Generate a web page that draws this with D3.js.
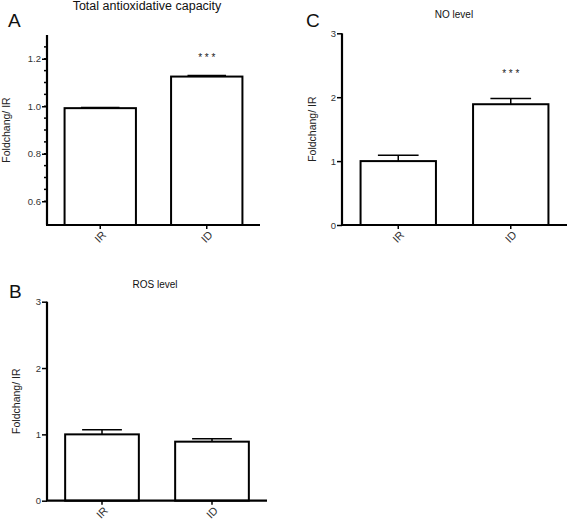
<!DOCTYPE html>
<html>
<head>
<meta charset="utf-8">
<script src="https://cdn.jsdelivr.net/npm/d3@7/dist/d3.min.js"></script>
<style>
  body { margin: 0; background: #fff; }
  svg { display: block; font-family: "Liberation Sans", Arial, sans-serif; }
</style>
</head>
<body>
<svg id="chart" width="567" height="522"></svg>
<script>
// ---- data ----
const categories = ["IR", "ID"];
const tacMeans = [0.992, 1.125];
const tacErr = [0.003, 0.005];
const noMeans = [1.0, 1.89];
const noErr = [0.09, 0.09];
const rosMeans = [1.0, 0.89];
const rosErr = [0.07, 0.045];
const tacMajorTicks = [0.6, 0.8, 1.0, 1.2];
const tacMinorTicks = [0.6, 0.65, 0.7, 0.75, 0.8, 0.85, 0.9, 0.95, 1.0, 1.05, 1.1, 1.15, 1.2, 1.25];
const levelTicks = [0, 1, 2, 3];

const svg = d3.select("#chart");

function panel(opts) {
  const g = svg.append("g");
  const y = d3.scaleLinear().domain(opts.domain).range([opts.bottom, opts.top]);
  const x = d3.scaleBand().domain(categories).range([opts.left, opts.right])
    .paddingInner(0.33).paddingOuter(0.165);

  // bars
  g.selectAll("rect.bar").data(opts.means).enter().append("rect")
    .attr("x", (d, i) => x(categories[i]))
    .attr("width", x.bandwidth())
    .attr("y", d => y(d))
    .attr("height", d => y(opts.domain[0]) - y(d))
    .attr("fill", "#fff").attr("stroke", "#000").attr("stroke-width", 2);

  // error bars
  const capW = x.bandwidth() * 0.27;
  opts.means.forEach((m, i) => {
    const cx = x(categories[i]) + x.bandwidth() / 2;
    g.append("line").attr("x1", cx).attr("x2", cx)
      .attr("y1", y(m)).attr("y2", y(m + opts.err[i]))
      .attr("stroke", "#000").attr("stroke-width", 1.5);
    g.append("line").attr("x1", cx - capW).attr("x2", cx + capW)
      .attr("y1", y(m + opts.err[i])).attr("y2", y(m + opts.err[i]))
      .attr("stroke", "#000").attr("stroke-width", 1.5);
  });

  // y axis
  const yAxis = d3.axisLeft(y).tickValues(opts.majorTicks).tickSize(5).tickSizeOuter(0)
    .tickFormat(opts.fmt);
  const ya = g.append("g").attr("transform", `translate(${opts.left},0)`).call(yAxis);
  ya.select(".domain").attr("stroke-width", 2.2).attr("d", `M0,${opts.top}V${opts.bottom}`);
  ya.selectAll(".tick line").attr("stroke-width", 1.5);
  ya.selectAll(".tick text").attr("font-size", 9.5).attr("fill", "#333")
    .attr("font-family", "Liberation Sans, Arial, sans-serif").attr("x", -6);
  if (opts.minorTicks) {
    g.append("g").selectAll("line").data(opts.minorTicks).enter().append("line")
      .attr("x1", opts.left - 3).attr("x2", opts.left)
      .attr("y1", d => y(d)).attr("y2", d => y(d))
      .attr("stroke", "#000").attr("stroke-width", 1.5);
  }

  // x axis
  const xAxis = d3.axisBottom(x).tickSize(4).tickSizeOuter(0).tickFormat("");
  const xa = g.append("g").attr("transform", `translate(0,${opts.bottom})`).call(xAxis);
  xa.select(".domain").attr("stroke-width", 2.2).attr("d", `M${opts.left - 1},0H${opts.right}`);
  xa.selectAll(".tick line").attr("stroke-width", 1.5);
  xa.selectAll(".tick text").remove();
  xa.selectAll(".tick").append("g")
    .attr("transform", "translate(4,8) rotate(-45)")
    .append("text")
    .attr("text-anchor", "end").attr("dy", "0.35em")
    .attr("font-size", 11).attr("fill", "#333")
    .attr("font-family", "Liberation Sans, Arial, sans-serif")
    .text(d => d);

  // y label
  g.append("text").attr("transform", `translate(${opts.ylabX},${(opts.top + opts.bottom) / 2 + opts.ylabDy}) rotate(-90)`)
    .attr("text-anchor", "middle").attr("font-size", 10.5).attr("fill", "#222")
    .text("Foldchang/ IR");

  // title
  g.append("text").attr("x", opts.titleX).attr("y", opts.titleY).attr("text-anchor", "middle")
    .attr("font-size", opts.titleSize).attr("fill", "#111").text(opts.title);

  // panel letter
  g.append("text").attr("x", opts.letterX).attr("y", opts.letterY)
    .attr("font-size", 19).attr("fill", "#111").text(opts.letter);

  // significance stars
  if (opts.stars) {
    const i = opts.stars.index;
    const cx = x(categories[i]) + x.bandwidth() / 2;
    g.append("text").attr("x", cx).attr("y", y(opts.stars.at)).attr("text-anchor", "middle")
      .attr("font-size", 10).attr("fill", "#222").text("* * *");
  }
}

panel({
  domain: [0.5, 1.3], top: 35, bottom: 225, left: 47, right: 260,
  means: tacMeans, err: tacErr, majorTicks: tacMajorTicks, minorTicks: tacMinorTicks,
  fmt: d3.format(".1f"), ylabX: 10, ylabDy: 0,
  title: "Total antioxidative capacity", titleX: 147, titleY: 10, titleSize: 12.5,
  letter: "A", letterX: 8, letterY: 27, stars: { index: 1, at: 1.19 }
});

panel({
  domain: [0, 3], top: 33.3, bottom: 225, left: 342, right: 567,
  means: noMeans, err: noErr, majorTicks: levelTicks, minorTicks: null,
  fmt: d3.format("d"), ylabX: 316, ylabDy: 0,
  title: "NO level", titleX: 454, titleY: 17.5, titleSize: 10,
  letter: "C", letterX: 306, letterY: 27, stars: { index: 1, at: 2.31 }
});

panel({
  domain: [0, 3], top: 301.7, bottom: 500.7, left: 47, right: 267,
  means: rosMeans, err: rosErr, majorTicks: levelTicks, minorTicks: null,
  fmt: d3.format("d"), ylabX: 20, ylabDy: 0,
  title: "ROS level", titleX: 155, titleY: 288, titleSize: 10,
  letter: "B", letterX: 9, letterY: 298, stars: null
});
</script>
</body>
</html>
